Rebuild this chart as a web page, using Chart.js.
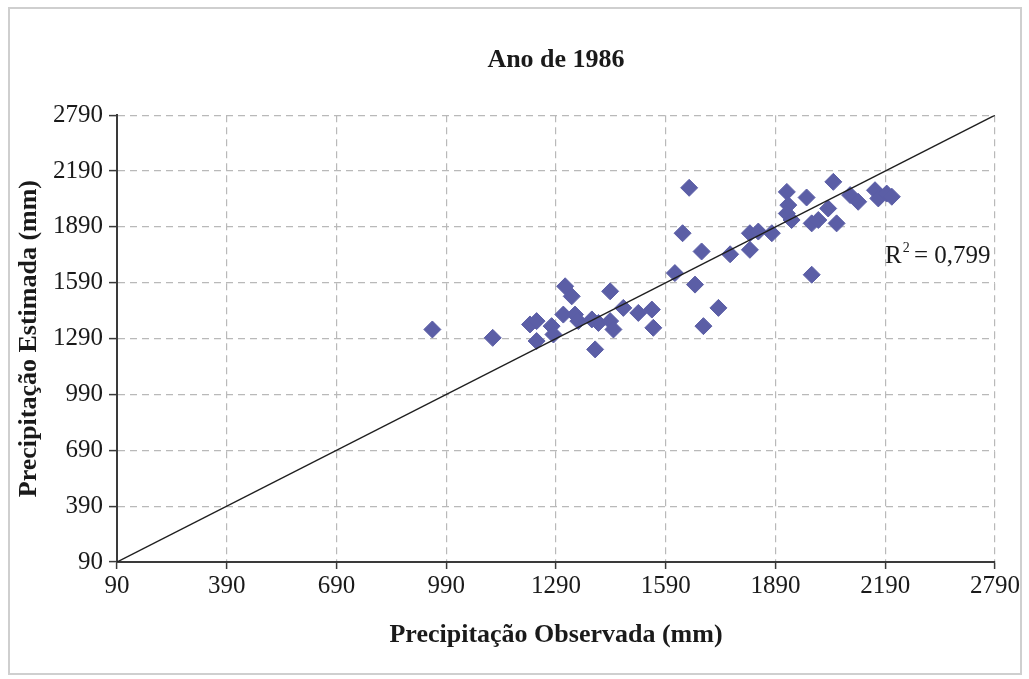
<!DOCTYPE html>
<html>
<head>
<meta charset="utf-8">
<title>Ano de 1986</title>
<script src="https://cdn.jsdelivr.net/npm/chart.js@4.4.1/dist/chart.umd.min.js"></script>
<style>
	html, body { margin: 0; padding: 0; background: #fff; }
	#wrap { width: 1029px; height: 679px; }
</style>
</head>
<body>
<div id="wrap"><canvas id="scatterChart" width="1029" height="679"></canvas></div>
<script>
"use strict";

// precipitação observada (x) e estimada (y), em mm
var observada = [952, 1117, 1219, 1237, 1237, 1278, 1283, 1315, 1333, 1310, 1342, 1351, 1388,
	1406, 1397, 1438, 1438, 1447, 1474, 1515, 1552, 1556, 1615, 1636, 1654, 1670, 1688, 1693,
	1734, 1766, 1820, 1820, 1843, 1880, 1921, 1925, 1921, 1934, 1975, 1989, 1989, 2007, 2034,
	2048, 2057, 2094, 2116, 2162, 2171, 2194, 2208];
var estimada = [1339, 1294, 1366, 1384, 1277, 1357, 1312, 1571, 1517, 1419, 1419, 1384, 1393,
	1374, 1232, 1544, 1384, 1339, 1455, 1428, 1446, 1348, 1642, 1856, 2100, 1580, 1758, 1357,
	1455, 1743, 1767, 1856, 1865, 1856, 2078, 2007, 1962, 1927, 2048, 1909, 1633, 1927, 1989,
	2132, 1909, 2061, 2025, 2087, 2043, 2069, 2052];

// linha 1:1
var linhaX = [90, 2490];
var linhaY = [90, 2490];

var tickLabels = ['90', '390', '690', '990', '1290', '1590', '1890', '2190', '2790'];
var r2Texto = '0,799';

var serif = '"Liberation Serif", "Times New Roman", serif';

var pontos = observada.map(function (v, i) { return { x: v, y: estimada[i] }; });
var linha = linhaX.map(function (v, i) { return { x: v, y: linhaY[i] }; });

// moldura cinza e rótulo do R²
var extras = {
	id: 'extras',
	beforeDraw: function (chart) {
		var c = chart.ctx;
		c.save();
		c.strokeStyle = '#cfcfcf';
		c.lineWidth = 2;
		c.strokeRect(9, 8, 1012, 666);
		c.restore();
	},
	afterDatasetsDraw: function (chart) {
		var c = chart.ctx;
		var a = chart.chartArea;
		var x = a.right - 110;
		var y = a.top + 148;
		c.save();
		c.fillStyle = '#1a1a1a';
		c.textBaseline = 'alphabetic';
		c.font = '25px ' + serif;
		c.fillText('R', x, y);
		var w = c.measureText('R').width;
		c.font = '14px ' + serif;
		c.fillText('2', x + w + 1, y - 11);
		c.font = '25px ' + serif;
		c.fillText(' = ' + r2Texto, x + w + 6, y);
		c.restore();
	}
};

function eixo(titulo, tituloPad, tickPad, tickLen) {
	return {
		type: 'linear',
		min: 90,
		max: 2490,
		ticks: {
			stepSize: 300,
			color: '#1a1a1a',
			padding: tickPad,
			font: { family: serif, size: 25 },
			callback: function (v, i) { return tickLabels[i]; }
		},
		grid: {
			color: '#b9b9b9',
			lineWidth: 1.2,
			tickLength: tickLen,
			tickColor: '#3a3a3a',
			tickWidth: 1.5
		},
		border: { color: '#3a3a3a', width: 2, dash: [7, 5] },
		title: {
			display: true,
			text: titulo,
			color: '#1a1a1a',
			padding: tituloPad,
			font: { family: serif, size: 26, weight: 'bold' }
		}
	};
}

var xAxis = eixo('Precipitação Observada (mm)', { top: 0, bottom: 28 }, 2, 7);
xAxis.afterFit = function (scale) { scale.height = 117; };
var yAxis = eixo('Precipitação Estimada (mm)', { top: 14, bottom: 0 }, 6, 8);
yAxis.afterFit = function (scale) { scale.width = 117; };

var ctx = document.getElementById('scatterChart');
var myChart = new Chart(ctx, {
	type: 'scatter',
	data: {
		datasets: [{
			label: 'Estimada x Observada',
			data: pontos,
			pointStyle: 'rectRot',
			pointRadius: 8.5,
			pointHoverRadius: 8.5,
			backgroundColor: '#5B5EA6',
			borderColor: '#5B5EA6',
			borderWidth: 1,
			order: 2
		}, {
			type: 'line',
			label: '1:1',
			data: linha,
			borderColor: '#1f1f1f',
			borderWidth: 1.4,
			pointRadius: 0,
			fill: false,
			order: 1
		}]
	},
	options: {
		responsive: false,
		animation: false,
		devicePixelRatio: 1,
		layout: { padding: { left: 0, right: 34, top: 0, bottom: 0 } },
		plugins: {
			legend: { display: false },
			tooltip: { enabled: false },
			title: {
				display: true,
				fullSize: false,
				text: 'Ano de 1986',
				color: '#1a1a1a',
				font: { family: serif, size: 26, weight: 'bold', lineHeight: 1.2 },
				padding: { top: 45, bottom: 39 }
			}
		},
		scales: { x: xAxis, y: yAxis }
	},
	plugins: [extras]
});
</script>
</body>
</html>
